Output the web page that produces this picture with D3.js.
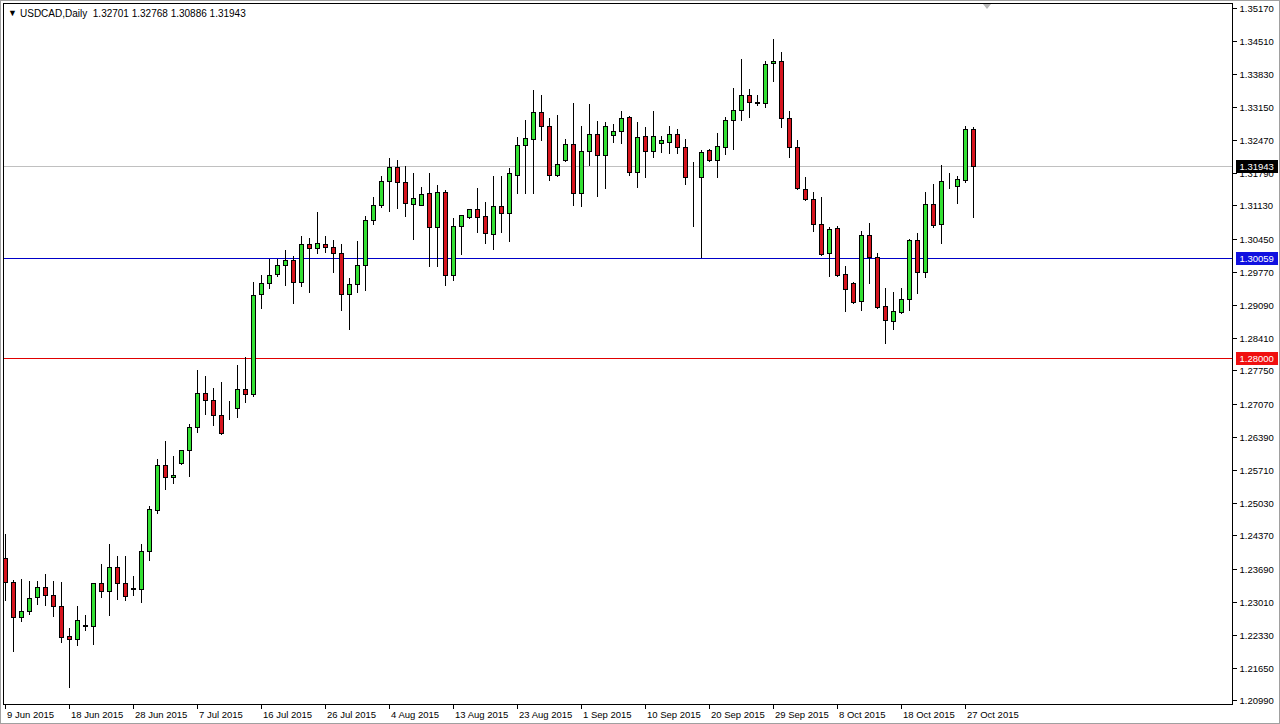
<!DOCTYPE html>
<html><head><meta charset="utf-8">
<script src="https://cdn.jsdelivr.net/npm/d3@7/dist/d3.min.js"></script>
<style>
html,body{margin:0;padding:0;background:#fff;}
svg{display:block;}
text{font-family:"Liberation Sans",Arial,sans-serif;}
</style></head>
<body>
<svg id="c" width="1280" height="724"></svg>
<script>
const symbolTitle = "USDCAD,Daily";
const startDate = "2015-06-09";
const barCount = 122;
const opens = [1.2390,1.2341,1.2270,1.2281,1.2310,1.2331,1.2314,1.2292,1.2230,1.2224,1.2252,1.2252,1.2339,1.2322,1.2372,1.2339,1.2328,1.2328,1.2404,1.2489,
1.2581,1.2556,1.2585,1.2611,1.2660,1.2728,1.2715,1.2683,1.2695,1.2697,1.2736,1.2726,1.2931,1.2954,1.2972,1.2992,1.3001,1.2956,1.3035,1.3025,
1.3035,1.3027,1.3015,1.2932,1.2953,1.2992,1.3083,1.3113,1.3164,1.3191,1.3162,1.3117,1.3113,1.3139,1.3069,1.3140,1.2970,1.3070,1.3089,1.3105,
1.3091,1.3054,1.3111,1.3097,1.3175,1.3236,1.3250,1.3304,1.3275,1.3175,1.3206,1.3239,1.3138,1.3224,1.3259,1.3216,1.3257,1.3266,1.3294,1.3181,
1.3255,1.3224,1.3242,1.3244,1.3259,1.3232,1.3171,1.3172,1.3226,1.3206,1.3233,1.3288,1.3308,1.3339,1.3326,1.3322,1.3404,1.3410,1.3293,1.3233,
1.3146,1.3127,1.3074,1.3015,1.3066,1.2972,1.2954,1.2917,1.3052,1.3007,1.2906,1.2876,1.2895,1.2921,1.3042,1.2976,1.3115,1.3074,1.3152,1.3153,
1.3165,1.32701];
const highs = [1.2442,1.2347,1.2349,1.2346,1.2346,1.2360,1.2346,1.2343,1.2249,1.2294,1.2276,1.2341,1.2381,1.2421,1.2397,1.2397,1.2356,1.2421,1.2499,1.2595,
1.2632,1.2602,1.2613,1.2667,1.2778,1.2766,1.2740,1.2753,1.2714,1.2788,1.2805,1.2959,1.2973,1.3005,1.3005,1.3023,1.3011,1.3052,1.3048,1.3102,
1.3052,1.3044,1.3037,1.2966,1.3042,1.3093,1.3132,1.3175,1.3213,1.3208,1.3196,1.3182,1.3153,1.3182,1.3156,1.3146,1.3089,1.3096,1.3108,1.3150,
1.3123,1.3175,1.3175,1.3192,1.3255,1.3290,1.3351,1.3341,1.3294,1.3300,1.3251,1.3325,1.3277,1.3322,1.3288,1.3287,1.3281,1.3309,1.3298,1.3286,
1.3276,1.3309,1.3257,1.3278,1.3271,1.3251,1.3204,1.3228,1.3230,1.3264,1.3296,1.3356,1.3415,1.3353,1.3341,1.3411,1.3456,1.3429,1.3309,1.3249,
1.3173,1.3143,1.3132,1.3071,1.3072,1.2991,1.2958,1.3063,1.3079,1.3018,1.2945,1.2938,1.2945,1.3047,1.3059,1.3143,1.3160,1.3198,1.3182,1.3175,
1.3278,1.32768];
const lows = [1.2305,1.2199,1.2262,1.2276,1.2296,1.2295,1.2272,1.2218,1.2126,1.2213,1.2243,1.2214,1.2311,1.2274,1.2307,1.2305,1.2315,1.2301,1.2386,1.2483,
1.2533,1.2545,1.2583,1.2559,1.2649,1.2686,1.2664,1.2645,1.2676,1.2680,1.2711,1.2722,1.2902,1.2944,1.2969,1.2951,1.2914,1.2948,1.2936,1.3016,
1.3018,1.2977,1.2899,1.2859,1.2936,1.2940,1.3076,1.3110,1.3102,1.3107,1.3092,1.3045,1.3113,1.2988,1.2988,1.2949,1.2960,1.3014,1.3087,1.3058,
1.3037,1.3023,1.3058,1.3041,1.3138,1.3139,1.3139,1.3247,1.3165,1.3173,1.3204,1.3114,1.3112,1.3196,1.3132,1.3149,1.3244,1.3242,1.3175,1.3151,
1.3172,1.3213,1.3222,1.3221,1.3221,1.3157,1.3071,1.3008,1.3205,1.3172,1.3218,1.3229,1.3288,1.3295,1.3319,1.3315,1.3369,1.3274,1.3213,1.3147,
1.3124,1.3061,1.3011,1.2969,1.2968,1.2897,1.2913,1.2899,1.2954,1.2902,1.2831,1.2860,1.2892,1.2899,1.2933,1.2966,1.3069,1.3037,1.3148,1.3119,
1.3161,1.30886];
const closes = [1.2341,1.2270,1.2282,1.2308,1.2331,1.2314,1.2292,1.2229,1.2224,1.2263,1.2253,1.2339,1.2322,1.2372,1.2339,1.2312,1.2329,1.2404,1.2490,1.2581,
1.2556,1.2561,1.2612,1.2660,1.2728,1.2715,1.2683,1.2647,1.2696,1.2736,1.2726,1.2930,1.2954,1.2970,1.2992,1.3001,1.2956,1.3035,1.3025,1.3037,
1.3027,1.3015,1.2932,1.2953,1.2992,1.3083,1.3113,1.3164,1.3191,1.3162,1.3119,1.3128,1.3137,1.3069,1.3140,1.2970,1.3070,1.3093,1.3105,1.3089,
1.3056,1.3111,1.3097,1.3179,1.3236,1.3251,1.3304,1.3275,1.3175,1.3197,1.3238,1.3138,1.3225,1.3259,1.3216,1.3275,1.3266,1.3292,1.3181,1.3253,
1.3224,1.3255,1.3247,1.3259,1.3232,1.3171,1.3172,1.3222,1.3206,1.3234,1.3288,1.3309,1.3339,1.3324,1.3322,1.3403,1.3410,1.3293,1.3233,1.3148,
1.3127,1.3074,1.3013,1.3064,1.2971,1.2941,1.2916,1.3052,1.3007,1.2904,1.2878,1.2896,1.2921,1.3042,1.2976,1.3115,1.3072,1.3163,1.3153,1.3167,
1.3269,1.31943];
const priceTicks = [1.35170,1.34510,1.33830,1.33150,1.32470,1.31790,1.31130,1.30450,1.29770,1.29090,1.28410,1.27750,1.27070,1.26390,1.25710,1.25030,1.24370,1.23690,1.23010,1.22330,1.21650,1.20990];
const dateTickLabels = ["9 Jun 2015","18 Jun 2015","28 Jun 2015","7 Jul 2015","16 Jul 2015","26 Jul 2015","4 Aug 2015","13 Aug 2015","23 Aug 2015","1 Sep 2015","10 Sep 2015","20 Sep 2015","29 Sep 2015","8 Oct 2015","18 Oct 2015","27 Oct 2015"];
const levelLines = [
  {price:1.31943, line:"#c0c0c0", box:"#000000"},
  {price:1.30059, line:"#0000c8", box:"#1010e0"},
  {price:1.28000, line:"#e00000", box:"#f01010"}
];

// trading-day categories (broker has Sunday bars, no Saturday bars)
const dates = [];
{
  let d = new Date(startDate + "T00:00:00Z");
  while (dates.length < barCount) {
    if (d.getUTCDay() !== 6) dates.push(new Date(d));
    d = new Date(d.getTime() + 86400000);
  }
}
const mon = ["Jan","Feb","Mar","Apr","May","Jun","Jul","Aug","Sep","Oct","Nov","Dec"];
const fmtDate = d => d.getUTCDate() + " " + mon[d.getUTCMonth()] + " " + d.getUTCFullYear();
const dateKeys = dates.map(fmtDate);

const bars = dateKeys.map((k,i)=>({k, o:opens[i], h:highs[i], l:lows[i], c:closes[i]}));

const W = 1280, H = 724;
const plotL = 3.5, plotR = 1232.5, plotT = 3.5, plotB = 704.5;

const svg = d3.select("#c");
const x = d3.scalePoint().domain(dateKeys).range([5.5, 5.5 + 8*(barCount-1)]);
const y = d3.scaleLinear().domain([1.20990, 1.35170]).range([700.3, 8.3]);
const py = v => Math.round(y(v)) + 0.5;

// outer frame
svg.append("rect").attr("x",0.5).attr("y",0.5).attr("width",W-1).attr("height",H-1)
  .attr("fill","#fff").attr("stroke","#a0a0a0");

const clip = svg.append("defs").append("clipPath").attr("id","pc")
  .append("rect").attr("x",plotL).attr("y",plotT).attr("width",plotR-plotL).attr("height",plotB-plotT);

const plot = svg.append("g").attr("clip-path","url(#pc)");

// level lines
plot.selectAll("line.lvl").data(levelLines).join("line").attr("class","lvl")
  .attr("x1",plotL).attr("x2",plotR).attr("y1",d=>py(d.price)).attr("y2",d=>py(d.price))
  .attr("stroke",d=>d.line).attr("stroke-width",1).attr("shape-rendering","crispEdges");

// candles
const g = plot.append("g").attr("shape-rendering","crispEdges");
g.selectAll("line.wick").data(bars).join("line").attr("class","wick")
  .attr("x1",d=>x(d.k)).attr("x2",d=>x(d.k))
  .attr("y1",d=>py(d.h)).attr("y2",d=>py(d.l)+0.5)
  .attr("stroke","#000").attr("stroke-width",1);
g.selectAll("rect.body").data(bars).join("rect").attr("class","body")
  .attr("x",d=>x(d.k)-2.5+0.5)
  .attr("width",4)
  .attr("y",d=>py(Math.max(d.o,d.c)))
  .attr("height",d=>Math.max(0, py(Math.min(d.o,d.c)) - py(Math.max(d.o,d.c))))
  .attr("fill",d=>d.c>=d.o ? "#33e033" : "#d6141e")
  .attr("stroke","#000").attr("stroke-width",1);

// plot border
svg.append("rect").attr("x",plotL).attr("y",plotT).attr("width",plotR-plotL).attr("height",plotB-plotT)
  .attr("fill","none").attr("stroke","#000").attr("shape-rendering","crispEdges");

// shift marker
svg.append("path").attr("d","M983,4 L991,4 L987,9 Z").attr("fill","#b8b8b8");

// title
svg.append("text").attr("x",8).attr("y",16).attr("font-size",9).attr("fill","#000").text("\u25BC");
svg.append("text").attr("x",20).attr("y",17).attr("font-size",10).attr("fill","#000")
  .attr("xml:space","preserve")
  .text(symbolTitle + "  " + [opens[barCount-1],highs[barCount-1],lows[barCount-1],closes[barCount-1]].map(v=>v.toFixed(5)).join(" "));

// right price axis
const yAxis = d3.axisRight(y).tickValues(priceTicks).tickFormat(d3.format(".5f")).tickSize(4).tickPadding(3);
const ya = svg.append("g").attr("transform",`translate(${plotR},0)`).call(yAxis);
ya.select(".domain").remove();
ya.selectAll(".tick line").attr("stroke","#000").attr("shape-rendering","crispEdges")
  .attr("transform",function(){ const t=d3.select(this.parentNode).attr("transform"); return null;});
ya.selectAll(".tick").attr("transform",d=>`translate(0,${py(d)})`);
ya.selectAll(".tick text").attr("font-size",9.5).attr("font-family","Liberation Sans, Arial, sans-serif").attr("fill","#000");

// price label boxes
const lb = svg.append("g");
levelLines.forEach(d=>{
  const yy = py(d.price);
  lb.append("rect").attr("x",plotR+3).attr("y",yy-6.5).attr("width",42).attr("height",13)
    .attr("fill",d.box).attr("shape-rendering","crispEdges");
  lb.append("text").attr("x",plotR+7).attr("y",yy).attr("dy","0.35em")
    .attr("font-size",9.5).attr("fill","#fff").text(d.price.toFixed(5));
});

// bottom date axis
const xa = svg.append("g");
const tickKeys = dateTickLabels;
xa.selectAll("line").data(tickKeys).join("line")
  .attr("x1",d=>x(d)).attr("x2",d=>x(d)).attr("y1",plotB).attr("y2",plotB+4)
  .attr("stroke","#000").attr("shape-rendering","crispEdges");
xa.selectAll("text").data(tickKeys).join("text")
  .attr("x",d=>x(d)+1.5).attr("y",718).attr("font-size",9.5).attr("fill","#000").text(d=>d);
</script>
</body></html>
